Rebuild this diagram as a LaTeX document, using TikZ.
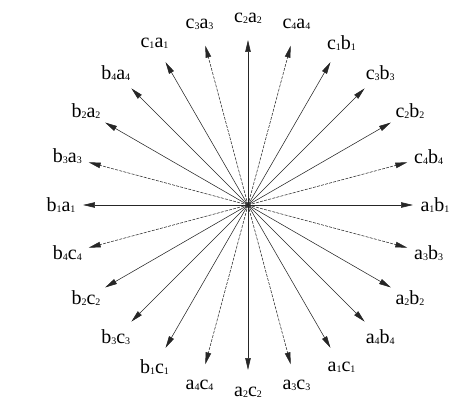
\documentclass[tikz,border=0pt]{standalone}
\usepackage{fontspec}
\setmainfont{Liberation Serif}
\newfontfamily\labfont{Liberation Serif}
\usetikzlibrary{arrows.meta}
\newcommand{\lsub}[1]{\raisebox{-1pt}{\fontsize{10}{10}\selectfont #1}}
\begin{document}
\begin{tikzpicture}[x=1pt,y=1pt,
  ray/.style={draw=black!85,line width=0.55pt,-{Stealth[length=12pt,width=5.5pt,inset=0pt]}},
  dray/.style={ray,dash pattern=on 3pt off 1.2pt},
  lab/.style={inner sep=0pt,font=\labfont\fontsize{20}{22}\selectfont}]
\useasboundingbox (-248,-196) rectangle (209,205);
\coordinate (O) at (0,0);
\foreach \ang/\txt/\st [count=\i] in {
  0/a\lsub{1}b\lsub{1}/ray,
  15/c\lsub{4}b\lsub{4}/dray,
  30/c\lsub{2}b\lsub{2}/ray,
  45/c\lsub{3}b\lsub{3}/ray,
  60/c\lsub{1}b\lsub{1}/ray,
  75/c\lsub{4}a\lsub{4}/dray,
  90/c\lsub{2}a\lsub{2}/ray,
  105/c\lsub{3}a\lsub{3}/dray,
  120/c\lsub{1}a\lsub{1}/ray,
  135/b\lsub{4}a\lsub{4}/ray,
  150/b\lsub{2}a\lsub{2}/ray,
  165/b\lsub{3}a\lsub{3}/dray,
  180/b\lsub{1}a\lsub{1}/ray,
  195/b\lsub{4}c\lsub{4}/dray,
  210/b\lsub{2}c\lsub{2}/ray,
  225/b\lsub{3}c\lsub{3}/ray,
  240/b\lsub{1}c\lsub{1}/ray,
  255/a\lsub{4}c\lsub{4}/dray,
  270/a\lsub{2}c\lsub{2}/ray,
  285/a\lsub{3}c\lsub{3}/dray,
  300/a\lsub{1}c\lsub{1}/ray,
  315/a\lsub{4}b\lsub{4}/ray,
  330/a\lsub{2}b\lsub{2}/ray,
  345/a\lsub{3}b\lsub{3}/dray}
{
  \coordinate (t\i) at (\ang:165);
  \node[lab] (l\i) at (\ang:187) {\txt};
  \draw[\st] (O) -- (t\i);
}
\end{tikzpicture}
\end{document}
